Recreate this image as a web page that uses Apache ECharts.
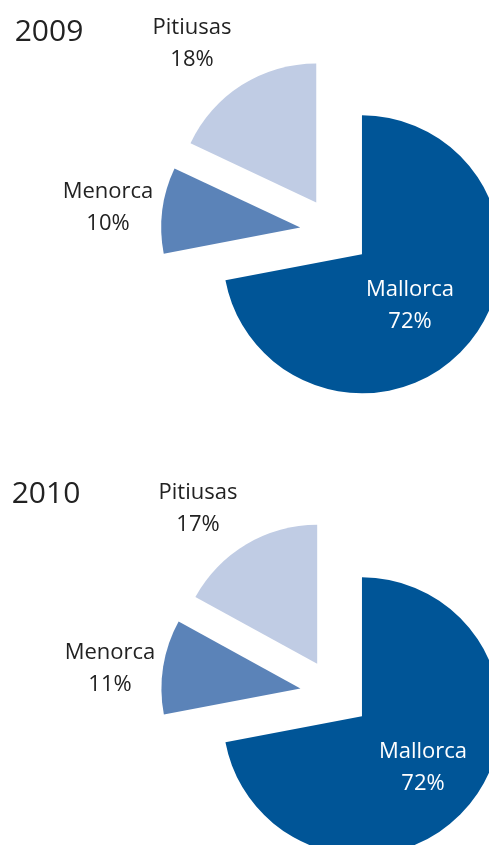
<!DOCTYPE html>
<html>
<head>
<meta charset="utf-8">
<script src="https://cdn.jsdelivr.net/npm/echarts@6/dist/echarts.min.js"></script>
<style>
  html, body { margin: 0; padding: 0; background: #ffffff; }
  #main { width: 489px; height: 845px; }
</style>
</head>
<body>
<div id="main"></div>
<script>
var years = ['2009', '2010'];
var islands = ['Mallorca', 'Menorca', 'Pitiusas'];
var values2009 = [72, 10, 18];
var values2010 = [72, 11, 17];

var colors = ['#005597', '#5b83b8', '#c0cce4'];
var font = '"Open Sans", "Noto Sans", sans-serif';

var chart = echarts.init(document.getElementById('main'), null, { renderer: 'canvas' });

function pieSeries(values, cy) {
  return {
    type: 'pie',
    center: [335, cy],
    radius: 139,
    startAngle: 90,
    clockwise: true,
    selectedMode: 'multiple',
    selectedOffset: 35,
    silent: true,
    z: 1,
    label: { show: false },
    labelLine: { show: false },
    data: islands.map(function (name, i) {
      return { name: name, value: values[i], selected: true, itemStyle: { color: colors[i] } };
    })
  };
}

// centre of first text line per island, per chart
var labelPos = [
  [[410, 290], [108, 192], [192, 28]],
  [[423, 752], [110, 653], [198, 493]]
];
var allValues = [values2009, values2010];
var yearPos = [[49, 32], [46, 494]];

var graphics = [];
years.forEach(function (yr, k) {
  graphics.push({
    type: 'text', x: yearPos[k][0], y: yearPos[k][1], z: 100,
    style: { text: yr, font: '30px ' + font, fill: '#222222', align: 'center', verticalAlign: 'middle' }
  });
  islands.forEach(function (name, i) {
    var p = labelPos[k][i];
    graphics.push({
      type: 'text', x: p[0], y: p[1] - 16, z: 100,
      style: {
        text: name + '\n' + allValues[k][i] + '%',
        font: '22px ' + font,
        fill: i === 0 ? '#ffffff' : '#222222',
        align: 'center', verticalAlign: 'top',
        lineHeight: 32
      }
    });
  });
});

chart.setOption({
  animation: false,
  backgroundColor: '#ffffff',
  series: [pieSeries(values2009, 232), pieSeries(values2010, 694)],
  graphic: graphics
});
</script>
</body>
</html>
